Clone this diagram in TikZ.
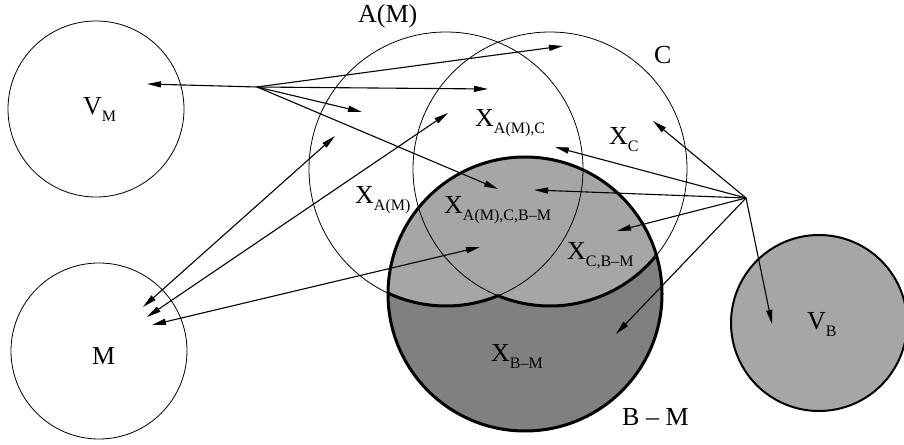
\documentclass[tikz,border=0pt]{standalone}
\usepackage{fontspec}
\setmainfont{Liberation Serif}
\usetikzlibrary{arrows.meta}
\definecolor{greyL}{HTML}{A6A6A6}
\definecolor{greyD}{HTML}{808080}
\newcommand{\sbs}[1]{\raisebox{-6.5pt}{\fontsize{16}{18}\selectfont #1}}

\begin{document}
\begin{tikzpicture}[x=1pt, y=1pt, font=\fontsize{26}{30}\selectfont,
  set/.style={draw, line width=0.8pt},
  vset/.style={circle, draw, minimum size=176pt, inner sep=0pt},
  lbl/.style={anchor=base west, inner sep=0pt},
  arr/.style={-{Triangle[length=14pt,width=6pt]}, line width=1.1pt},
  dbl/.style={{Triangle[length=14pt,width=6pt]}-{Triangle[length=14pt,width=6pt]}, line width=1.1pt}]
\useasboundingbox (0,0) rectangle (904,444);
\coordinate (am) at (446,275);
\coordinate (c) at (550,275);
\coordinate (bm) at (525,150);
\fill[greyD] (bm) circle (137);
\begin{scope}
  \clip (bm) circle (137);
  \fill[greyL] (am) circle (137) (c) circle (137);
\end{scope}
\draw[set] (am) circle (137);
\draw[set] (c) circle (137);
\draw[line width=3pt] (am) ++(245:137) arc (245:292.3:137) arc (247.7:321:137);
\draw[line width=3pt] (bm) circle (137);
\node[vset, line width=0.8pt] (vm) at (96,335) {};
\node[vset, line width=0.8pt] (m) at (99,93) {};
\node[vset, line width=2pt, fill=greyL] (vb) at (819,121) {};

\node[lbl] (lvm) at (83,329) {V\sbs{M}};
\node[lbl] (lm) at (92,79) {M};
\node[lbl] (lvb) at (807,114) {V\sbs{B}};
\node[lbl] (lam) at (358,421) {A(M)};
\node[lbl] (lc) at (654,380) {C};
\node[lbl] (lbm) at (622,18) {B -- M};
\node[lbl] (xamc) at (475,317) {X\sbs{A(M),C}};
\node[lbl] (xc) at (609,299) {X\sbs{C}};
\node[lbl] (xam) at (355,240) {X\sbs{A(M)}};
\node[lbl] (xamcb) at (444,230) {X\sbs{A(M),C,B--M}};
\node[lbl] (xcb) at (567,184) {X\sbs{C,B--M}};
\node[lbl] (xb) at (491,82) {X\sbs{B--M}};

\coordinate (s1) at (257,357);
\coordinate (s2) at (746,246);
\coordinate (t1) at (147,360);
\coordinate (t2) at (563,398);
\coordinate (t3) at (488,355);
\coordinate (t4) at (362,332);
\coordinate (t5) at (498,255);
\coordinate (u1) at (653,323);
\coordinate (u2) at (555,297);
\coordinate (u3) at (534,254);
\coordinate (u4) at (617,213);
\coordinate (u5) at (616,110);
\coordinate (u6) at (772,120);
\coordinate (m1) at (143,137);
\coordinate (m2) at (147,127);
\coordinate (m3) at (152,119);
\coordinate (a1) at (335,308);
\coordinate (a2) at (448,331);
\coordinate (a3) at (480,197);
\foreach \i in {1,...,5}
  \draw[arr] (s1) -- (t\i);
\foreach \i in {1,...,6}
  \draw[arr] (s2) -- (u\i);
\foreach \i in {1,2,3}
  \draw[dbl] (m\i) -- (a\i);
\end{tikzpicture}
\end{document}
